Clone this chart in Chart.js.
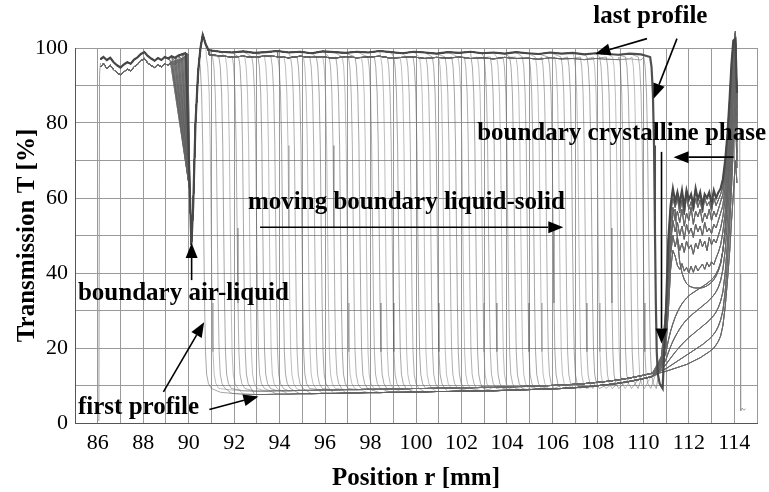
<!DOCTYPE html>
<html>
<head>
<meta charset="utf-8">
<script src="https://cdn.jsdelivr.net/npm/chart.js@4.4.1/dist/chart.umd.min.js"></script>
<style>
  html, body { margin: 0; padding: 0; background: #fff; }
  #chart { display: block; }
</style>
</head>
<body>
<canvas id="chart" width="769" height="492"></canvas>
<script>
// Position of the liquid-solid boundary for each profile (mm), first -> last
const boundaries = [90.45, 90.78, 91.05, 91.33, 91.62, 91.92, 92.2, 92.47, 92.78, 93.05, 93.34, 93.62,
  93.92, 94.2, 94.48, 94.77, 95.05, 95.33, 95.62, 95.9, 96.18, 96.47, 96.76, 97.03, 97.32, 97.6,
  97.88, 98.17, 98.45, 98.74, 99.02, 99.3, 99.58, 99.87, 100.15, 100.44, 100.72, 101.0, 101.28,
  101.57, 101.85, 102.13, 102.42, 102.7, 102.98, 103.27, 103.55, 103.83, 104.12, 104.4, 104.68,
  104.97, 105.25, 105.53, 105.82, 106.1, 106.38, 106.67, 106.95, 107.23, 107.52, 107.8, 108.08,
  108.37, 108.65, 108.93, 109.22, 109.5, 109.78, 110.02, 110.3];

// Air region left of the meniscus (two noise traces)
const airX = [86.12, 86.25, 86.4, 86.55, 86.7, 86.85, 87.0, 87.15, 87.3, 87.45, 87.6, 87.75, 87.9,
  88.05, 88.2, 88.35, 88.5, 88.65, 88.8, 88.95, 89.1, 89.25, 89.4, 89.55, 89.7, 89.85];
const airA = [97.0, 97.6, 96.8, 97.4, 96.2, 95.4, 94.8, 95.6, 96.2, 95.8, 96.9, 97.5, 98.4, 98.9,
  97.9, 97.2, 96.6, 97.3, 96.8, 97.6, 97.2, 97.8, 97.4, 98.0, 98.3, 98.6];
const airB = [95.0, 95.8, 94.6, 95.4, 94.2, 93.4, 92.8, 93.6, 94.4, 93.9, 95.0, 95.6, 96.6, 97.2,
  96.0, 95.3, 94.8, 95.5, 95.0, 95.8, 95.4, 96.0, 95.7, 96.3, 96.8, 97.2];

// Where each meniscus trace leaves the air level
const meniscusX = [89.97, 89.93, 89.88, 89.83, 89.78, 89.73, 89.68, 89.63, 89.58, 89.53, 89.48,
  89.43, 89.38, 89.33, 89.28, 89.24, 89.2];
const meniscusT = [98.4, 98.2, 98.0, 97.8, 97.6, 97.4, 97.3, 97.1, 97.0, 96.9, 96.8, 96.7, 96.6,
  96.5, 96.5, 96.4, 96.3];

// Air-liquid dip and overshoot
const dipX = [90.05, 90.12, 90.2, 90.3, 90.42, 90.52, 90.62, 90.75, 90.86];
const dipT = [62, 47.5, 58, 80, 94, 100, 103.5, 101, 99.6];

// Liquid plateau and solid baseline (two noise traces each)
const profileX = [90.9, 91.4, 91.9, 92.4, 92.9, 93.4, 93.9, 94.4, 94.9, 95.4, 95.9, 96.4, 96.9,
  97.4, 97.9, 98.4, 98.9, 99.4, 99.9, 100.4, 100.9, 101.4, 101.9, 102.4, 102.9, 103.4, 103.9,
  104.4, 104.9, 105.4, 105.9, 106.4, 106.9, 107.4, 107.9, 108.4, 108.9, 109.4, 109.9, 110.4];
const plateauA = [99.4, 99.0, 98.8, 99.1, 98.7, 98.9, 99.2, 98.8, 99.0, 98.6, 99.1, 98.9, 98.7,
  99.0, 98.8, 99.2, 98.9, 98.6, 99.0, 98.8, 98.5, 98.9, 98.7, 99.0, 98.6, 98.8, 98.5, 98.9, 98.6,
  98.4, 98.8, 98.5, 98.7, 98.3, 98.6, 98.4, 98.2, 98.5, 98.3, 98.1];
const plateauB = [98.2, 97.9, 97.6, 97.8, 97.5, 97.9, 97.7, 97.4, 97.8, 97.5, 97.6, 97.3, 97.7,
  97.4, 97.6, 97.8, 97.3, 97.5, 97.6, 97.2, 97.5, 97.3, 97.6, 97.2, 97.4, 97.1, 97.5, 97.2, 97.3,
  97.0, 97.4, 97.1, 97.2, 96.9, 97.2, 97.0, 96.9, 97.1, 96.8, 96.8];
const baseA = [8.6, 8.2, 7.9, 7.7, 7.6, 7.6, 7.7, 7.7, 7.8, 7.8, 7.9, 7.9, 8.0, 8.0, 8.1, 8.1, 8.2,
  8.2, 8.3, 8.3, 8.4, 8.4, 8.5, 8.5, 8.6, 8.6, 8.7, 8.8, 8.9, 9.0, 9.1, 9.2, 9.4, 9.6, 9.9, 10.2,
  10.6, 11.1, 11.7, 12.4];
const baseB = [9.4, 9.1, 8.8, 8.6, 8.5, 8.5, 8.6, 8.6, 8.7, 8.7, 8.8, 8.8, 8.9, 8.9, 9.0, 9.0, 9.1,
  9.1, 9.2, 9.2, 9.3, 9.3, 9.4, 9.4, 9.5, 9.5, 9.6, 9.7, 9.8, 9.9, 10.0, 10.1, 10.3, 10.5, 10.8,
  11.1, 11.5, 12.0, 12.6, 13.3];

// Shape of one boundary drop, measured from its start
const dropDX = [0, 0.06, 0.12, 0.17, 0.21, 0.25, 0.29, 0.34, 0.42, 0.55];
const dropT = [97.6, 95, 88, 74, 52, 32, 19, 13, 10.5, 9.2];

// Crystalline zone, lowest (early profiles) to highest (late profiles)
const crystX = [110.8, 111.0, 111.1, 111.2, 111.3, 111.4, 111.5, 111.6, 111.7, 111.8, 111.9, 112.0,
  112.1, 112.2, 112.3, 112.4, 112.5, 112.6, 112.7, 112.8, 112.9, 113.0, 113.1, 113.2, 113.3, 113.4,
  113.5, 113.6, 113.7, 113.8, 113.88, 113.96, 114.05, 114.12];
const crystCurves = [
  [13.5, 13.8, 14.0, 14.2, 14.4, 14.6, 14.8, 15.0, 15.2, 15.4, 15.6, 15.9, 16.2, 16.5, 16.8, 17.1, 17.4, 17.8, 18.2, 18.6, 19.0, 19.5, 20.0, 20.8, 21.8, 23.2, 26, 31, 38, 46, 54, 61, 70, 64],
  [14.0, 14.5, 14.9, 15.3, 15.7, 16.1, 16.5, 16.9, 17.3, 17.7, 18.1, 18.5, 18.9, 19.3, 19.7, 20.1, 20.5, 20.9, 21.4, 21.9, 22.4, 23.0, 23.7, 24.6, 25.8, 27.5, 30, 35, 43, 53, 63, 74, 84, 68],
  [14.4, 15.6, 16.5, 17.3, 18.1, 18.9, 19.6, 20.3, 21.0, 21.6, 22.2, 22.8, 23.3, 23.8, 24.3, 24.8, 25.3, 25.8, 26.3, 26.8, 27.4, 28.0, 28.7, 29.6, 30.8, 32.5, 35, 40, 48, 58, 68, 80, 90, 70],
  [14.8, 17.0, 18.8, 20.4, 21.8, 23.0, 24.1, 25.1, 26.0, 26.8, 27.5, 28.1, 28.7, 29.2, 29.7, 30.2, 30.7, 31.2, 31.7, 32.2, 32.8, 33.4, 34.1, 35.0, 36.2, 38.0, 41, 46, 54, 64, 74, 86, 95, 72],
  [15.2, 19.0, 22.0, 24.5, 26.5, 28.2, 29.6, 30.8, 31.8, 32.6, 33.3, 33.9, 34.4, 34.8, 35.2, 35.6, 36.0, 36.4, 36.8, 37.2, 37.7, 38.2, 38.9, 39.8, 41.0, 42.8, 46, 51, 59, 69, 79, 90, 99, 75],
  [15.6, 22, 32, 46, 56, 57, 49, 43, 40, 38.3, 37.2, 36.6, 36.3, 36.1, 36.0, 36.0, 36.0, 36.1, 36.3, 36.6, 37.0, 37.5, 38.2, 39.2, 40.6, 42.5, 46, 52, 61, 72, 83, 94, 102, 78],
  [16.0, 21, 30, 41, 46, 44.5, 42, 41, 42.5, 40.5, 41.5, 40, 41.8, 40.2, 42, 40.6, 41.5, 42.4, 41, 42.8, 41.6, 43, 42.2, 44, 45.5, 47.5, 51, 56, 64, 75, 86, 96, 103, 80],
  [16.4, 23, 34, 45, 50, 47, 49.5, 46, 48, 45.5, 48.5, 46.5, 47.5, 45, 48, 46.5, 49, 47, 48.5, 46, 49.5, 47.5, 49, 48, 50, 52, 55, 60, 68, 78, 89, 98, 104, 82],
  [16.8, 25, 38, 49, 54, 51, 53.5, 50, 52.5, 49, 53, 50.5, 52, 49.5, 53, 51, 52.5, 50, 53.5, 51, 52, 50.5, 53, 52, 54, 56, 58, 63, 71, 81, 91, 99, 104.5, 84],
  [17.2, 27, 42, 53, 57.5, 54, 56.5, 53.5, 57, 52.5, 56, 54, 57.5, 53, 56.5, 55, 57, 53.5, 56, 54.5, 57, 54, 56.5, 55, 57, 59, 61, 66, 73, 83, 93, 100, 104, 86],
  [17.6, 29, 46, 56, 60, 57.5, 60, 56, 59.5, 55.5, 60.5, 57, 59, 56.5, 60, 57.5, 59.5, 56, 60, 58, 59, 56.5, 60, 58, 59.5, 61, 63, 68, 75, 85, 95, 101, 103, 87],
  [18.0, 31, 49, 58, 62.5, 59, 61.5, 58.5, 62, 57.5, 62, 59.5, 61, 58, 62.5, 59.5, 61.5, 58, 61, 60, 61.5, 58.5, 62, 60, 61.5, 62.5, 65, 70, 77, 87, 96, 102, 102.5, 88]
];

// Left edge of the cell and the trace past the cell bottom
const edgeX = [86.05, 86.08, 86.12];
const edgeT = [0.5, 93, 96];
const tailX = [114.24, 114.26, 114.28, 114.35, 114.42, 114.5];
const tailT = [78, 40, 3.2, 4.0, 3.4, 3.8];

// Axis ticks
const xMin = 85, xMax = 115;
const yMin = 0, yMax = 100;

const lineColors = ['rgba(95,95,95,0.55)', 'rgba(125,125,125,0.5)', 'rgba(80,80,80,0.45)'];
const serif = '"Liberation Serif", "DejaVu Serif", serif';

function profilePoints(i) {
    const b = boundaries[i];
    const m = i % meniscusX.length;
    const airT = i % 2 ? airB : airA;
    const topT = i % 2 ? plateauB : plateauA;
    const lowT = i % 2 ? baseB : baseA;
    const crystT = crystCurves[Math.floor(i * crystCurves.length / boundaries.length)];
    const pts = [];
    const lastX = () => pts[pts.length - 1].x;

    airX.forEach((x, k) => { if (x < meniscusX[m]) pts.push({ x: x, y: airT[k] }); });
    pts.push({ x: meniscusX[m], y: meniscusT[m] });
    dipX.forEach((x, k) => { if (x > lastX() && x < b) pts.push({ x: x, y: dipT[k] }); });
    profileX.forEach((x, k) => { if (x > lastX() && x < b) pts.push({ x: x, y: topT[k] }); });
    dropDX.forEach((dx, k) => pts.push({ x: b + dx, y: dropT[k] }));
    profileX.forEach((x, k) => { if (x > lastX() + 0.1) pts.push({ x: x, y: lowT[k] }); });
    crystX.forEach((x, k) => { if (x > lastX()) pts.push({ x: x, y: crystT[k] }); });
    return pts;
}

function zip(xs, ys) {
    return xs.map((x, k) => ({ x: x, y: ys[k] }));
}

const datasets = boundaries.map((b, i) => {
    const isLast = i === boundaries.length - 1;
    return {
        data: profilePoints(i),
        borderColor: isLast ? 'rgba(70,70,70,0.95)' : lineColors[i % lineColors.length],
        borderWidth: isLast ? 2.2 : 1,
        order: isLast ? -1 : 0
    };
});
datasets.push({ data: zip(edgeX, edgeT), borderColor: 'rgba(150,150,150,0.9)', borderWidth: 1 });
datasets.push({ data: zip(tailX, tailT), borderColor: 'rgba(150,150,150,0.9)', borderWidth: 1 });

// Text labels and arrows, in data units
const notes = [
    { text: 'last profile', x: 110.31, y: 108.5, align: 'center' },
    { text: 'boundary crystalline phase', x: 102.69, y: 77.25, align: 'left' },
    { text: 'moving boundary liquid-solid', x: 92.61, y: 58.8, align: 'left' },
    { text: 'boundary air-liquid', x: 85.13, y: 34.6, align: 'left' },
    { text: 'first profile', x: 85.13, y: 4.2, align: 'left' }
];
const arrows = [
    [110.16, 102.5, 107.89, 98.5],
    [111.48, 102.5, 110.45, 86.5],
    [110.8, 72.3, 110.8, 21.2],
    [113.97, 70.9, 111.33, 70.9],
    [93.14, 52.2, 106.48, 52.2],
    [90.13, 38.1, 90.13, 48.0],
    [88.89, 8.3, 90.68, 26.9],
    [90.91, 3.6, 93.07, 7.1]
];

const notesPlugin = {
    id: 'notes',
    afterDatasetsDraw(chart) {
        const ctx = chart.ctx;
        const xs = chart.scales.x, ys = chart.scales.y;
        ctx.save();
        ctx.fillStyle = '#000';
        ctx.strokeStyle = '#000';
        ctx.font = 'bold 25px ' + serif;
        ctx.textBaseline = 'middle';
        notes.forEach(n => {
            ctx.textAlign = n.align;
            ctx.fillText(n.text, xs.getPixelForValue(n.x), ys.getPixelForValue(n.y));
        });
        ctx.lineWidth = 1.6;
        arrows.forEach(a => {
            const x1 = xs.getPixelForValue(a[0]), y1 = ys.getPixelForValue(a[1]);
            const x2 = xs.getPixelForValue(a[2]), y2 = ys.getPixelForValue(a[3]);
            const ang = Math.atan2(y2 - y1, x2 - x1);
            const len = 15, half = 6;
            const bx = x2 - len * Math.cos(ang), by = y2 - len * Math.sin(ang);
            ctx.beginPath();
            ctx.moveTo(x1, y1);
            ctx.lineTo(bx, by);
            ctx.stroke();
            ctx.beginPath();
            ctx.moveTo(x2, y2);
            ctx.lineTo(bx + half * Math.sin(ang), by - half * Math.cos(ang));
            ctx.lineTo(bx - half * Math.sin(ang), by + half * Math.cos(ang));
            ctx.closePath();
            ctx.fill();
        });
        ctx.restore();
    }
};

new Chart(document.getElementById('chart'), {
    type: 'line',
    data: { datasets: datasets },
    options: {
        responsive: false,
        animation: false,
        events: [],
        layout: { padding: { top: 48, right: 12, left: 0, bottom: 0 } },
        datasets: {
            line: { pointRadius: 0, tension: 0, fill: false, clip: false }
        },
        plugins: { legend: { display: false }, tooltip: { enabled: false } },
        scales: {
            x: {
                type: 'linear',
                min: xMin,
                max: xMax,
                afterFit(scale) { scale.height = 69; },
                ticks: {
                    stepSize: 1,
                    autoSkip: false,
                    maxRotation: 0,
                    padding: 7,
                    color: '#000',
                    font: { family: serif, size: 22 },
                    callback: v => (v % 2 === 0 ? String(v) : '')
                },
                grid: { color: '#9a9a9a', lineWidth: 1, drawTicks: false },
                border: { color: '#555', width: 1 },
                title: {
                    display: true,
                    text: 'Position r [mm]',
                    color: '#000',
                    font: { family: serif, size: 25, weight: 'bold', lineHeight: 1.1 },
                    padding: { top: 0, bottom: 0 }
                }
            },
            y: {
                min: yMin,
                max: yMax,
                afterFit(scale) { scale.width = 75; },
                ticks: {
                    stepSize: 10,
                    padding: 7,
                    color: '#000',
                    font: { family: serif, size: 22 },
                    callback: v => (v % 20 === 0 ? String(v) : '')
                },
                grid: { color: '#9a9a9a', lineWidth: 1, drawTicks: false },
                border: { color: '#555', width: 1 },
                title: {
                    display: true,
                    text: 'Transmission T [%]',
                    color: '#000',
                    font: { family: serif, size: 25, weight: 'bold' },
                    padding: { top: 13, bottom: 0 }
                }
            }
        }
    },
    plugins: [notesPlugin]
});
</script>
</body>
</html>
